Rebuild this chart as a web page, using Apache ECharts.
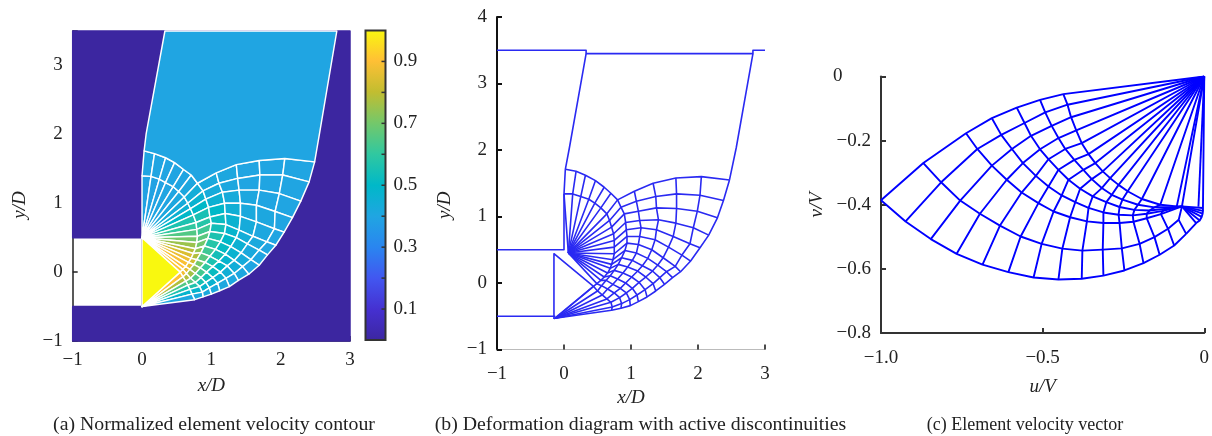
<!DOCTYPE html>
<html><head><meta charset="utf-8">
<style>html,body{margin:0;padding:0;background:#fff}#c{width:1212px;height:436px}</style>
<script src="https://cdn.jsdelivr.net/npm/echarts@6/dist/echarts.min.js"></script>
</head><body><div id="c"></div>
<script>
// ---------- Panel (a): mesh nodes in x/D, y/D ----------
const aP=[0,0.5], aQ=[0,-0.5];
// upper fan rays: [inner arc node, outer arc node]
const aFanRows=[
[[0,1.40],[.03,1.76]],[[.13,1.39],[.18,1.72]],[[.25,1.35],[.34,1.66]],
[[.34,1.30],[.47,1.59]],[[.45,1.24],[.60,1.49]],[[.53,1.17],[.71,1.41]]];
// net rows, each from inner arc to the outer boundary
const aNetRows=[
[[.61,1.09],[.80,1.29],[1.07,1.44],[1.36,1.56],[1.69,1.62],[2.06,1.65],[2.49,1.60]],
[[.66,1.00],[.88,1.18],[1.11,1.29],[1.38,1.36],[1.70,1.41],[2.03,1.41],[2.41,1.31]],
[[.70,.92],[.92,1.06],[1.16,1.16],[1.40,1.19],[1.69,1.19],[1.98,1.14],[2.29,1.03]],
[[.74,.83],[.96,.94],[1.19,1.00],[1.42,1.00],[1.65,.97],[1.92,.88],[2.17,.79]],
[[.78,.72],[.98,.80],[1.20,.85],[1.42,.81],[1.65,.73],[1.91,.63],[2.05,.58]],
[[.79,.62],[1.00,.71],[1.21,.69],[1.40,.61],[1.60,.52],[1.80,.44],[1.93,.39]],
[[.80,.52],[.98,.59],[1.19,.56],[1.36,.50],[1.52,.41],[1.69,.32],[1.81,.25]],
[[.79,.43],[.95,.49],[1.13,.44],[1.28,.37],[1.43,.28],[1.57,.18],[1.69,.10]],
[[.77,.34],[.90,.38],[1.06,.33],[1.20,.26],[1.33,.17],[1.45,.08],[1.54,-.03]],
[[.74,.27],[.85,.28],[.98,.23],[1.11,.16],[1.23,.09],[1.33,-.02],[1.39,-.12]],
[[.71,.20],[.79,.18],[.91,.14],[1.02,.08],[1.13,0],[1.21,-.09],[1.26,-.21]],
[[.67,.14],[.75,.11],[.84,.06],[.93,0],[1.02,-.08],[1.09,-.16],[1.12,-.27]],
[[.63,.08],[.69,.04],[.77,-.02],[.85,-.08],[.92,-.15],[.97,-.23],[1.00,-.32]],
[[.59,.04],[.64,-.02],[.70,-.09],[.77,-.15],[.83,-.21],[.87,-.29],[.88,-.36]],
[[.55,0],[.59,-.07],[.63,-.13],[.66,-.19],[.69,-.25],[.72,-.32],[.76,-.40]]];
const aBlockLeft=[[.03,1.76],[.06,2.01],[.33,3.5]];
const aBlockRight=[[2.81,3.5],[2.56,2.01],[2.49,1.60]];
const aDomain=[[-1,.5],[0,.5],[0,-.5],[-1,-.5],[-1,-1],[3,-1],[3,3.5],[-1,3.5]];
// element speeds
const aFanSpeeds=[.39,.39,.39,.40,.40,.41,.43,.46,.50,.56,.60,.65,.70,.75,.79,.84,.87,.89,.90,.91];
const aRingSpeeds=[.40,.40,.40,.40,.40,.41];
const aNetSpeeds=[
[.44,.42,.41,.40,.40,.40],[.47,.43,.41,.40,.40,.40],[.50,.46,.43,.41,.40,.40],
[.55,.50,.45,.42,.41,.40],[.58,.52,.47,.43,.41,.40],[.62,.54,.48,.44,.42,.40],
[.66,.56,.50,.46,.42,.40],[.70,.58,.51,.47,.43,.40],[.74,.62,.54,.48,.44,.41],
[.78,.66,.56,.50,.45,.41],[.83,.70,.60,.52,.46,.41],[.86,.74,.63,.54,.47,.42],
[.86,.76,.64,.55,.48,.42],[.88,.78,.66,.57,.48,.42]];
const aLowerFanSpeeds=[.90,.78,.65,.56,.48,.41];
const aBlockSpeed=.40, aTriangleSpeed=1, aStillSpeed=0;
const barTicks=[.1,.3,.5,.7,.9];
const barAllTicks=[.1,.2,.3,.4,.5,.6,.7,.8,.9];
const barRamp=['#3c26a0','#4530d0','#4256f0','#2a85f0','#20a5e2','#00b8c8','#30c8a0','#74c86a','#c2bd30','#ffc035','#f9f80f'];

// ---------- Panel (b): deformed mesh ----------
const bP=[.065,.45], bQ=[-.13,-.53], bTriTop=[-.15,.44], bTriBottom=[-.15,-.54];
const bFanRows=[
[[0,1.34],[.02,1.71]],[[.13,1.34],[.18,1.68]],[[.25,1.30],[.32,1.62]],
[[.37,1.26],[.47,1.54]],[[.46,1.20],[.60,1.44]],[[.55,1.13],[.70,1.35]]];
const bNetRows=[
[[.64,1.04],[.80,1.25],[1.05,1.38],[1.33,1.50],[1.67,1.58],[2.05,1.60],[2.47,1.55]],
[[.68,.94],[.85,1.14],[1.08,1.23],[1.37,1.30],[1.68,1.34],[2.03,1.32],[2.38,1.24]],
[[.71,.84],[.90,1.04],[1.11,1.08],[1.38,1.13],[1.68,1.12],[1.99,1.08],[2.29,.98]],
[[.74,.74],[.92,.91],[1.13,.94],[1.41,.95],[1.67,.90],[1.93,.83],[2.16,.72]],
[[.75,.64],[.93,.80],[1.15,.83],[1.38,.80],[1.63,.70],[1.88,.59],[2.03,.53]],
[[.75,.54],[.94,.70],[1.13,.70],[1.36,.65],[1.56,.54],[1.76,.42],[1.89,.33]],
[[.75,.44],[.94,.60],[1.11,.58],[1.31,.50],[1.48,.38],[1.66,.25],[1.74,.17]],
[[.73,.35],[.91,.49],[1.08,.45],[1.25,.37],[1.40,.27],[1.53,.17],[1.62,.08]],
[[.71,.28],[.86,.38],[1.02,.34],[1.17,.26],[1.32,.18],[1.43,.08],[1.50,-.02]],
[[.69,.22],[.81,.28],[.95,.24],[1.10,.18],[1.22,.09],[1.33,-.01],[1.37,-.12]],
[[.65,.15],[.75,.19],[.88,.15],[1.01,.09],[1.12,.01],[1.21,-.10],[1.24,-.21]],
[[.60,.09],[.69,.11],[.80,.06],[.92,0],[1.02,-.08],[1.09,-.18],[1.11,-.28]],
[[.55,.04],[.63,.04],[.73,-.02],[.84,-.08],[.93,-.15],[.98,-.25],[.99,-.34]],
[[.49,-.01],[.56,-.04],[.65,-.09],[.75,-.15],[.83,-.22],[.86,-.31],[.85,-.38]],
[[.44,-.05],[.50,-.12],[.57,-.18],[.64,-.24],[.70,-.29],[.72,-.36],[.71,-.41]]];
const bBlockLeft=[[.02,1.71],[.08,2.03],[.33,3.45]];
const bBlockRight=[[2.47,1.55],[2.57,2.03],[2.82,3.45]];
const bBlockTop=[[-1,3.5],[.33,3.5],[.33,3.45],[2.82,3.45],[2.82,3.5],[3,3.5]];
const bWallTop=[[-1,.5],[0,.5],[0,1.34]];
const bWallBottom=[[-1,-.5],[-.13,-.5]];

// ---------- Panel (c): hodograph in u/V, v/V ----------
const cOrigin=[0,0];
const cTop=[[-1,-.386],[-.869,-.270],[-.737,-.177],[-.657,-.130],[-.580,-.097],[-.508,-.073],[-.436,-.055]];
const cRows=[
[[-.924,-.452],[-.814,-.330],[-.702,-.226],[-.628,-.182],[-.556,-.145],[-.492,-.112],[-.423,-.088]],
[[-.846,-.507],[-.755,-.387],[-.657,-.278],[-.595,-.226],[-.536,-.185],[-.472,-.154],[-.412,-.127]],
[[-.766,-.553],[-.694,-.428],[-.611,-.322],[-.561,-.270],[-.508,-.227],[-.451,-.192],[-.396,-.168]],
[[-.686,-.587],[-.632,-.465],[-.565,-.362],[-.521,-.310],[-.482,-.258],[-.430,-.226],[-.379,-.208]],
[[-.606,-.610],[-.568,-.499],[-.513,-.395],[-.482,-.343],[-.451,-.291],[-.402,-.260],[-.358,-.242]],
[[-.528,-.627],[-.503,-.522],[-.466,-.421],[-.441,-.371],[-.420,-.322],[-.374,-.291],[-.337,-.270]],
[[-.451,-.633],[-.439,-.537],[-.415,-.439],[-.399,-.392],[-.384,-.350],[-.348,-.320],[-.314,-.296]],
[[-.379,-.631],[-.377,-.543],[-.363,-.452],[-.358,-.410],[-.345,-.374],[-.317,-.348],[-.291,-.317]],
[[-.312,-.621],[-.314,-.540],[-.312,-.457],[-.312,-.424],[-.303,-.392],[-.286,-.369],[-.265,-.338]],
[[-.247,-.605],[-.255,-.536],[-.262,-.457],[-.265,-.431],[-.262,-.407],[-.253,-.384],[-.237,-.358]],
[[-.188,-.582],[-.200,-.522],[-.219,-.453],[-.221,-.433],[-.216,-.416],[-.205,-.400],[-.193,-.382]],
[[-.138,-.556],[-.154,-.501],[-.178,-.442],[-.178,-.428],[-.169,-.418],[-.154,-.408],[-.136,-.400]],
[[-.093,-.527],[-.112,-.475],[-.134,-.429],[-.128,-.419],[-.116,-.412],[-.100,-.408],[-.085,-.405]],
[[-.056,-.491],[-.079,-.447],[-.069,-.405],[-.069,-.405],[-.069,-.405],[-.069,-.405],[-.069,-.405]]];
const cFocus=[-.069,-.405];
const cArc=[[-.004,-.410],[-.004,-.419],[-.005,-.428],[-.008,-.438],[-.014,-.449],[-.025,-.457]];
const cExtraRay=[-.018,-.406];

const captions=['(a) Normalized element velocity contour','(b) Deformation diagram with active discontinuities','(c) Element velocity vector'];

// ---------- builders ----------
const speedColor=v=>echarts.color.lerp(v,barRamp);
const cells=[];
const add=(poly,v)=>cells.push({poly,v});
add(aDomain,aStillSpeed);
const aRows=aFanRows.concat(aNetRows);
aFanSpeeds.forEach((v,i)=>add([aP,aRows[i][0],aRows[i+1][0]],v));
aRingSpeeds.forEach((v,i)=>add([aRows[i][0],aRows[i][1],aRows[i+1][1],aRows[i+1][0]],v));
aNetSpeeds.forEach((row,i)=>row.forEach((v,j)=>{
  const r0=aNetRows[i],r1=aNetRows[i+1];
  add([r0[j],r0[j+1],r1[j+1],r1[j]],v);
}));
aLowerFanSpeeds.forEach((v,j)=>{const r=aNetRows[aNetRows.length-1];add([aQ,r[j],r[j+1]],v);});
add([aP,aQ,aNetRows[aNetRows.length-1][0]],aTriangleSpeed);
add(aBlockLeft.concat(aBlockRight,aNetRows[0].slice(1).reverse(),aFanRows.map(r=>r[1]).reverse()),aBlockSpeed);

function meshLines(fanRows,netRows,P,Q){
  const out=[];
  fanRows.forEach(r=>out.push([P,...r]));
  netRows.forEach((r,i)=>out.push(i===netRows.length-1?r:[P,...r]));
  for(let j=0;j<7;j++){
    const col=netRows.map(r=>r[j]).reverse();
    const top=j<2?fanRows.map(r=>r[j]).reverse():[];
    out.push([Q,...col,...top]);
  }
  return out;
}
const bLines=meshLines(bFanRows,bNetRows,bP,bQ).concat([
  bBlockLeft,bBlockRight,bBlockTop,bWallTop,bWallBottom,
  [bTriBottom,bTriTop,bNetRows[bNetRows.length-1][0]],[bTriBottom,bNetRows[bNetRows.length-1][0]]
]);
const cLines=[];
cRows.forEach(r=>cLines.push([...r,cOrigin]));
cTop.forEach((t,k)=>cLines.push([t,...cRows.map(r=>r[k])]));
cLines.push([...cTop,cOrigin]);
cLines.push([cOrigin,...cArc,cRows[cRows.length-1][0]]);
cArc.forEach(p=>cLines.push([cFocus,p]));
cLines.push([cOrigin,cExtraRay]);

const minus=s=>String(s).replace('-','\u2212');
const SERIF='"Liberation Serif","Times New Roman",serif';
const tickLabel={fontFamily:SERIF,fontSize:19,color:'#222'};
const nameStyle={fontFamily:SERIF,fontSize:19,fontStyle:'italic',color:'#222'};
const label=(margin,formatter)=>Object.assign({},tickLabel,{margin,hideOverlap:false,showMinLabel:true,formatter});
function axis(o,color,width,tickColor){
  return Object.assign({type:'value',splitLine:{show:false},
    axisLine:{show:true,onZero:false,lineStyle:{color,width}},
    axisTick:{show:true,inside:true,length:5,lineStyle:{color:tickColor||color,width:Math.max(width,1.5)}},
    axisLabel:label(10,v=>minus(v)),
    nameLocation:'middle',nameTextStyle:nameStyle},o);
}
const chart=echarts.init(document.getElementById('c'),null,{renderer:'canvas'});
const lines=(data,ax,color,width)=>({type:'lines',coordinateSystem:'cartesian2d',polyline:true,silent:true,
  xAxisIndex:ax,yAxisIndex:ax,data:data.map(coords=>({coords})),lineStyle:{color,width,opacity:1,join:'round'},z:3});
const fmtCx=v=>v===0?'0':minus(v.toFixed(1));
const fmtCy=v=>v===0?'0\u00a0\u00a0\u00a0\u00a0\u00a0\u00a0':minus(v.toFixed(1));
chart.setOption({
  animation:false,backgroundColor:'#fff',
  grid:[
    {left:72.7,top:31,width:277.3,height:310},
    {left:497,top:17,width:268,height:332.5},
    {left:881,top:76.5,width:323.5,height:256.5},
    {left:365.5,top:30.5,width:20,height:309.5}
  ],
  xAxis:[
    axis({gridIndex:0,min:-1,max:3,interval:1,name:'x/D',nameGap:35},'#222',1.5),
    axis({gridIndex:1,min:-1,max:3,interval:1,name:'x/D',nameGap:36,axisLabel:label(15,v=>minus(v))},'#bbb',1,'#111'),
    axis({gridIndex:2,min:-1,max:0,interval:.5,name:'u/V',nameGap:44,axisLabel:label(16,fmtCx)},'#333',2),
    {gridIndex:3,type:'value',min:0,max:1,show:false}
  ],
  yAxis:[
    axis({gridIndex:0,min:-1,max:3.5,interval:1,name:'y/D',
      nameGap:43,nameTextStyle:Object.assign({},nameStyle,{padding:[0,38,0,0]}),
      axisLabel:label(10,v=>v===3.5?'':minus(v))},'#222',1.5),
    axis({gridIndex:1,min:-1,max:4,interval:1,name:'y/D',
      nameGap:43,nameTextStyle:Object.assign({},nameStyle,{padding:[0,44,0,0]})},'#111',2),
    axis({gridIndex:2,min:-.8,max:0,interval:.2,name:'v/V',nameGap:55,axisLabel:label(10,fmtCy)},'#333',2),
    {gridIndex:3,type:'value',min:0,max:1,interval:.1,position:'right',
      axisLine:{show:false},splitLine:{show:false},axisTick:{show:false},
      axisLabel:Object.assign({},tickLabel,{margin:8,
        formatter:v=>barTicks.some(t=>Math.abs(t-v)<1e-6)?v.toFixed(1):''})}
  ],
  series:[
    {type:'custom',coordinateSystem:'cartesian2d',xAxisIndex:0,yAxisIndex:0,silent:true,z:2,clip:false,
      data:cells.map(c=>[c.poly[0][0],c.poly[0][1],c.v]),encode:{x:0,y:1},
      renderItem:(p,api)=>{
        const c=cells[p.dataIndex];
        const still=c.v===aStillSpeed;
        const fill=speedColor(c.v);
        return {type:'polygon',shape:{points:c.poly.map(q=>api.coord(q))},
          style:{fill,stroke:still?fill:'#fff',lineWidth:still?1.5:1.45,lineJoin:'round'}};
      }},
    lines(bLines,1,'#2a2af2',1.6),
    lines(cLines,2,'#0000ff',1.9),
    {type:'custom',coordinateSystem:'cartesian2d',xAxisIndex:3,yAxisIndex:3,silent:true,z:4,
      data:[[0,0]],encode:{x:0,y:1},
      renderItem:(p,api)=>{
        const a=api.coord([0,1]),b=api.coord([1,0]);
        const children=[{type:'rect',shape:{x:a[0],y:a[1],width:b[0]-a[0],height:b[1]-a[1]},
          style:{stroke:'#333',lineWidth:2,
            fill:new echarts.graphic.LinearGradient(0,1,0,0,barRamp.map((color,i)=>({offset:i/10,color})))}}];
        barAllTicks.forEach(t=>{
          const q=api.coord([1,t]);
          children.push({type:'line',shape:{x1:q[0]-4,y1:q[1],x2:q[0],y2:q[1]},style:{stroke:'#333',lineWidth:1.5}});
        });
        return {type:'group',children};
      }}
  ],
  graphic:[[214,captions[0],19.8],[640.5,captions[1],19.8],[1025,captions[2],18]].map(([x,text,fontSize])=>({
    type:'text',x,y:425,silent:true,
    style:{text,fontFamily:SERIF,fontSize,fill:'#222',align:'center',verticalAlign:'middle'}}))
});
</script></body></html>
